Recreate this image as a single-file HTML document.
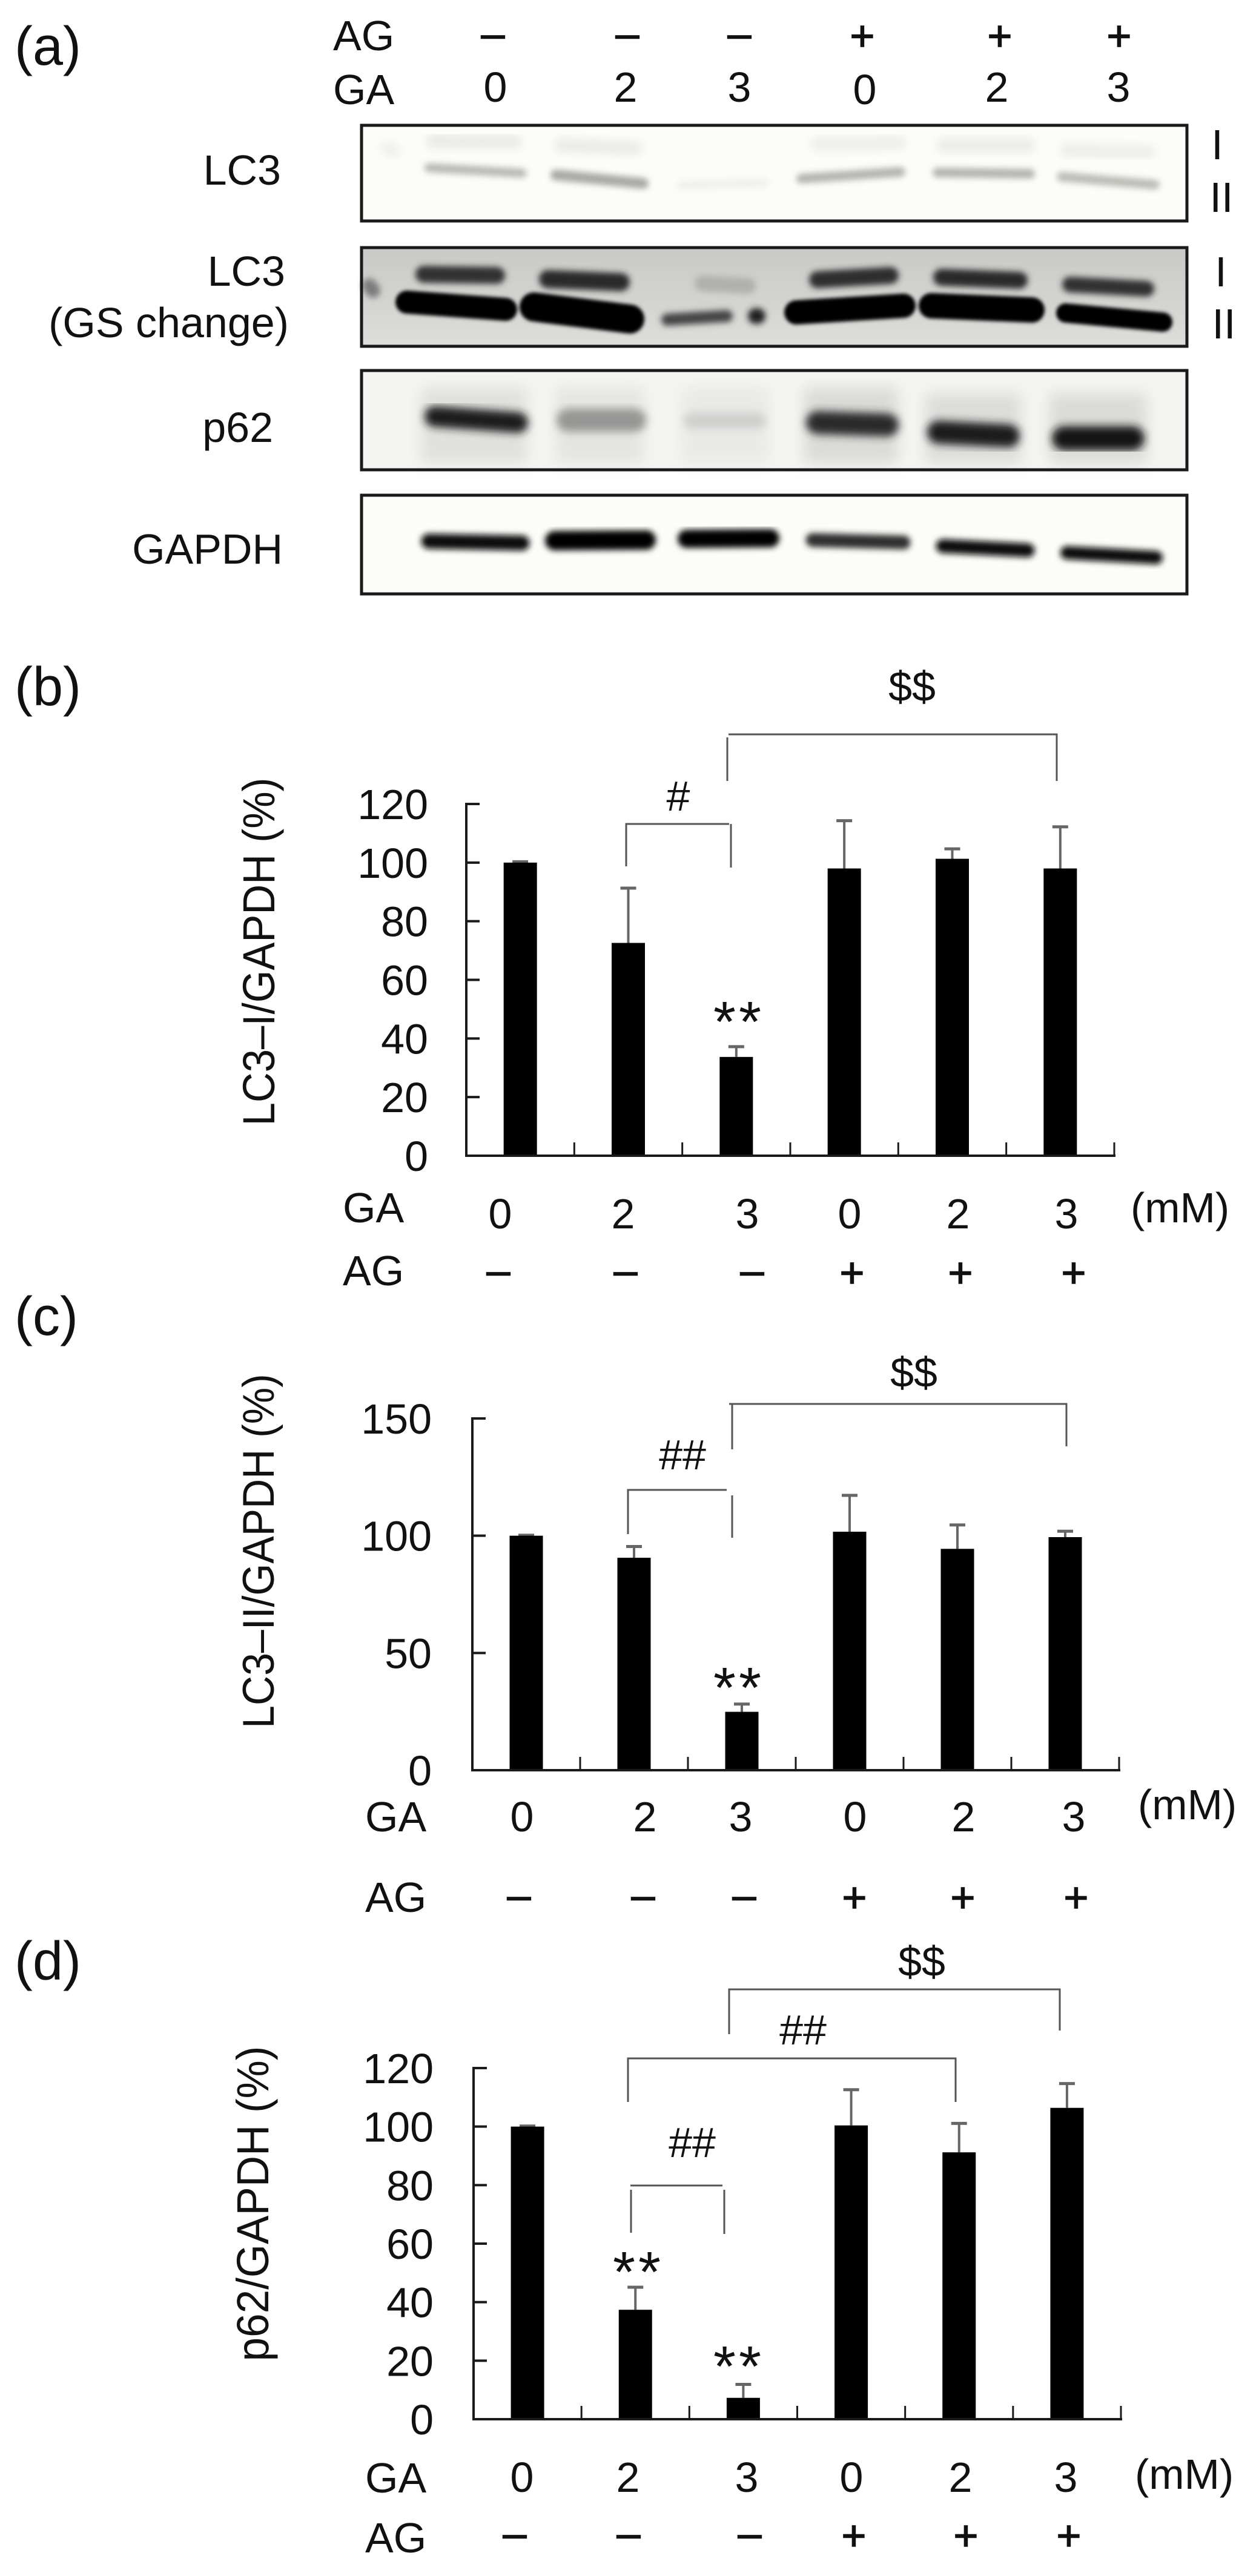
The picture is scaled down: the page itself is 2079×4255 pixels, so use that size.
<!DOCTYPE html>
<html lang="en">
<head>
<meta charset="utf-8">
<title>LC3 and p62 western blots and quantification</title>
<style>
html,body{margin:0;padding:0;background:#fff;}
svg{display:block;}
text{font-family:"Liberation Sans",Arial,sans-serif;font-size:70px;fill:#111;}
.panel{font-size:90px;}
.mid{text-anchor:middle;}
.end{text-anchor:end;}
.sign{text-anchor:middle;stroke:#111;stroke-width:1.5px;}
.ast{font-size:95px;letter-spacing:5px;text-anchor:middle;}
.brk{stroke:#555;stroke-width:3px;fill:none;}
.frame{fill:none;stroke:#1a1a1a;stroke-width:5px;}
.band{fill:none;stroke-linecap:round;}
</style>
</head>
<body>
<svg id="figure" xmlns="http://www.w3.org/2000/svg" width="2079" height="4255" viewBox="0 0 2079 4255">
<defs>
<filter id="blur-soft" x="-20%" y="-60%" width="140%" height="220%"><feGaussianBlur stdDeviation="7"/></filter>
<filter id="blur-mid" x="-20%" y="-60%" width="140%" height="220%"><feGaussianBlur stdDeviation="5"/></filter>
<filter id="blur-smear" x="-30%" y="-30%" width="160%" height="160%"><feGaussianBlur stdDeviation="12"/></filter>
<linearGradient id="gs-membrane" x1="0" y1="0" x2="0" y2="1"><stop offset="0" stop-color="#c9c9c7"/><stop offset="0.6" stop-color="#d4d4d2"/><stop offset="1" stop-color="#dededc"/></linearGradient>
</defs>
<rect width="2079" height="4255" fill="#fff"/>

<!-- Panel a -->
<g>
<text class="panel" x="24" y="107">(a)</text>
<text x="550" y="83">AG</text>
<text x="550" y="172">GA</text>
<g>
<text class="sign" x="814" y="79">–</text>
<text class="sign" x="1036" y="79">–</text>
<text class="sign" x="1221" y="79">–</text>
<text class="sign" x="1424" y="83">+</text>
<text class="sign" x="1651" y="83">+</text>
<text class="sign" x="1848" y="83">+</text>
</g>
<g>
<text class="mid" x="818" y="168">0</text>
<text class="mid" x="1033" y="168">2</text>
<text class="mid" x="1221" y="168">3</text>
<text class="mid" x="1428" y="172">0</text>
<text class="mid" x="1646" y="168">2</text>
<text class="mid" x="1847" y="168">3</text>
</g>

<text class="end" x="464" y="305">LC3</text>
<text class="end" x="471" y="472">LC3</text>
<text class="end" x="477" y="557">(GS change)</text>
<text class="end" x="451" y="730">p62</text>
<text class="end" x="467" y="931">GAPDH</text>

<text class="mid" x="2010" y="263">I</text>
<text class="mid" x="2017" y="350">II</text>
<text class="mid" x="2016" y="473">I</text>
<text class="mid" x="2021" y="559">II</text>

<g>
<rect x="597" y="207" width="1363" height="158" fill="#fcfcf9"/>
<g class="band" filter="url(#blur-soft)">
<line x1="715" y1="233" x2="850" y2="234" stroke="#eaeae7" stroke-width="24"/>
<line x1="927" y1="240" x2="1049" y2="245" stroke="#ebebe8" stroke-width="24"/>
<line x1="1350" y1="238" x2="1485" y2="236" stroke="#eeeeeb" stroke-width="24"/>
<line x1="1557" y1="240" x2="1699" y2="240" stroke="#ecece9" stroke-width="24"/>
<line x1="1762" y1="248" x2="1897" y2="252" stroke="#eeeeeb" stroke-width="24"/>
<line x1="640" y1="245" x2="650" y2="250" stroke="#f0f0ed" stroke-width="24"/>
</g>
<g class="band" filter="url(#blur-mid)">
<line x1="708" y1="277" x2="862" y2="286" stroke="#b8b8b3" stroke-width="15"/>
<line x1="918" y1="289" x2="1062" y2="303" stroke="#a9a9a4" stroke-width="18"/>
<line x1="1125" y1="306" x2="1263" y2="302" stroke="#efefec" stroke-width="14"/>
<line x1="1323" y1="295" x2="1487" y2="284" stroke="#b4b4af" stroke-width="16"/>
<line x1="1548" y1="285" x2="1701" y2="287" stroke="#b4b4af" stroke-width="16"/>
<line x1="1753" y1="292" x2="1907" y2="305" stroke="#bbbbb6" stroke-width="16"/>
</g>
<rect class="frame" x="597" y="207" width="1363" height="158"/>
</g>

<g>
<rect x="597" y="409" width="1363" height="163" fill="url(#gs-membrane)"/>
<g class="band" filter="url(#blur-mid)">
<line x1="700" y1="453" x2="820" y2="455" stroke="#333" stroke-width="28"/>
<line x1="905" y1="461" x2="1025" y2="466" stroke="#2a2a2a" stroke-width="30"/>
<line x1="1350" y1="462" x2="1470" y2="455" stroke="#2f2f2f" stroke-width="28"/>
<line x1="1555" y1="458" x2="1683" y2="463" stroke="#2a2a2a" stroke-width="28"/>
<line x1="1767" y1="470" x2="1893" y2="477" stroke="#333" stroke-width="26"/>
<line x1="610" y1="472" x2="616" y2="480" stroke="#7d7d7d" stroke-width="24"/>
<line x1="1160" y1="468" x2="1235" y2="472" stroke="#b0b0ae" stroke-width="26"/>
<line x1="1102" y1="528" x2="1200" y2="522" stroke="#444" stroke-width="20"/>
<line x1="1248" y1="522" x2="1251" y2="522" stroke="#222" stroke-width="26"/>
</g>
<g class="band" stroke="#000" style="filter:blur(3px)">
<line x1="672" y1="499" x2="835" y2="511" stroke-width="38"/>
<line x1="882" y1="507" x2="1040" y2="527" stroke-width="48"/>
<line x1="1315" y1="516" x2="1492" y2="505" stroke-width="40"/>
<line x1="1538" y1="505" x2="1704" y2="512" stroke-width="42"/>
<line x1="1760" y1="517" x2="1920" y2="532" stroke-width="32"/>
</g>
<rect class="frame" x="597" y="409" width="1363" height="163"/>
</g>

<g>
<rect x="597" y="612" width="1363" height="164" fill="#f4f4f2"/>
<g filter="url(#blur-smear)">
<rect x="695" y="640" width="175" height="125" fill="#e0e0de"/>
<rect x="918" y="640" width="145" height="125" fill="#e4e4e2"/>
<rect x="1125" y="640" width="145" height="125" fill="#e9e9e7"/>
<rect x="1328" y="640" width="155" height="125" fill="#dadad8"/>
<rect x="1528" y="650" width="158" height="115" fill="#dcdcda"/>
<rect x="1733" y="650" width="160" height="115" fill="#dadad8"/>
</g>
<g class="band" filter="url(#blur-soft)">
<line x1="718" y1="688" x2="855" y2="698" stroke="#1c1c1c" stroke-width="34"/>
<line x1="938" y1="694" x2="1048" y2="694" stroke="#969694" stroke-width="38"/>
<line x1="1142" y1="695" x2="1252" y2="695" stroke="#cfcfcd" stroke-width="26"/>
<line x1="1350" y1="698" x2="1465" y2="702" stroke="#2b2b2b" stroke-width="38"/>
<line x1="1550" y1="714" x2="1665" y2="720" stroke="#1a1a1a" stroke-width="38"/>
<line x1="1757" y1="724" x2="1870" y2="724" stroke="#161616" stroke-width="40"/>
</g>
<rect class="frame" x="597" y="612" width="1363" height="164"/>
</g>

<g>
<rect x="597" y="818" width="1363" height="163" fill="#fcfcf9"/>
<g class="band" filter="url(#blur-mid)">
<line x1="708" y1="894" x2="862" y2="897" stroke="#0c0c0c" stroke-width="25"/>
<line x1="916" y1="893" x2="1067" y2="892" stroke="#050505" stroke-width="32"/>
<line x1="1134" y1="890" x2="1272" y2="889" stroke="#050505" stroke-width="30"/>
<line x1="1342" y1="892" x2="1492" y2="896" stroke="#2e2e2e" stroke-width="23"/>
<line x1="1557" y1="902" x2="1697" y2="909" stroke="#0c0c0c" stroke-width="23"/>
<line x1="1762" y1="913" x2="1909" y2="921" stroke="#0c0c0c" stroke-width="22"/>
</g>
<rect class="frame" x="597" y="818" width="1363" height="163"/>
</g>
</g>

<!-- Panel b -->
<g>
<text class="panel" x="24" y="1165">(b)</text>
<text class="mid" style="font-size:69px" transform="translate(453,1572) rotate(-90) scale(1,1.08)">LC3–I/GAPDH (%)</text>
<g id="chart-b"></g>
<g>
<path class="brk" d="M1034 1431V1361H1204"/>
<path class="brk" d="M1207 1361V1433"/>
<path class="brk" d="M1203 1213H1745V1290"/>
<path class="brk" d="M1201 1218V1290"/>
</g>
<text class="mid" x="1120" y="1339">#</text>
<text class="mid" x="1506" y="1158">$$</text>
<text class="ast" x="1220" y="1720">**</text>
<text x="566" y="2019">GA</text>
<text class="mid" x="826" y="2029">0</text>
<text class="mid" x="1029" y="2029">2</text>
<text class="mid" x="1234" y="2029">3</text>
<text class="mid" x="1403" y="2029">0</text>
<text class="mid" x="1582" y="2029">2</text>
<text class="mid" x="1761" y="2029">3</text>
<text x="1867" y="2019">(mM)</text>
<text x="566" y="2123">AG</text>
<text class="sign" x="823" y="2122">–</text>
<text class="sign" x="1033" y="2122">–</text>
<text class="sign" x="1242" y="2122">–</text>
<text class="sign" x="1407" y="2126">+</text>
<text class="sign" x="1586" y="2126">+</text>
<text class="sign" x="1773" y="2126">+</text>
</g>

<!-- Panel c -->
<g>
<text class="panel" x="24" y="2205">(c)</text>
<text class="mid" style="font-size:68px" transform="translate(452,2562) rotate(-90) scale(1,1.08)">LC3–II/GAPDH (%)</text>
<g id="chart-c"></g>
<g>
<path class="brk" d="M1037 2534V2461H1200"/>
<path class="brk" d="M1209 2470V2540"/>
<path class="brk" d="M1204 2319H1761V2389"/>
<path class="brk" d="M1209 2319V2394"/>
</g>
<text class="mid" x="1127" y="2427">##</text>
<text class="mid" x="1509" y="2291">$$</text>
<text class="ast" x="1220" y="2820">**</text>
<text x="603" y="3025">GA</text>
<text class="mid" x="862" y="3025">0</text>
<text class="mid" x="1065" y="3025">2</text>
<text class="mid" x="1223" y="3025">3</text>
<text class="mid" x="1412" y="3025">0</text>
<text class="mid" x="1591" y="3025">2</text>
<text class="mid" x="1773" y="3025">3</text>
<text x="1879" y="3005">(mM)</text>
<text x="603" y="3158">AG</text>
<text class="sign" x="857" y="3154">–</text>
<text class="sign" x="1062" y="3154">–</text>
<text class="sign" x="1229" y="3154">–</text>
<text class="sign" x="1411" y="3158">+</text>
<text class="sign" x="1590" y="3158">+</text>
<text class="sign" x="1777" y="3158">+</text>
</g>

<!-- Panel d -->
<g>
<text class="panel" x="24" y="3270">(d)</text>
<text class="mid" style="font-size:71px" transform="translate(443,3640) rotate(-90) scale(1,1.05)">p62/GAPDH (%)</text>
<g id="chart-d"></g>
<g>
<path class="brk" d="M1042 3688V3617M1041 3610H1193M1196 3617V3690"/>
<path class="brk" d="M1037 3472V3400H1578V3472"/>
<path class="brk" d="M1204 3360V3286H1750V3354"/>
</g>
<text class="mid" x="1326" y="3377">##</text>
<text class="mid" x="1143" y="3563">##</text>
<text class="mid" x="1522" y="3264">$$</text>
<text class="ast" x="1054" y="3785">**</text>
<text class="ast" x="1220" y="3941">**</text>
<text x="603" y="4117">GA</text>
<text class="mid" x="862" y="4116">0</text>
<text class="mid" x="1037" y="4116">2</text>
<text class="mid" x="1233" y="4116">3</text>
<text class="mid" x="1406" y="4116">0</text>
<text class="mid" x="1586" y="4116">2</text>
<text class="mid" x="1760" y="4116">3</text>
<text x="1874" y="4111">(mM)</text>
<text x="603" y="4216">AG</text>
<text class="sign" x="850" y="4208">–</text>
<text class="sign" x="1038" y="4208">–</text>
<text class="sign" x="1238" y="4208">–</text>
<text class="sign" x="1410" y="4212">+</text>
<text class="sign" x="1595" y="4212">+</text>
<text class="sign" x="1765" y="4212">+</text>
</g>
</svg>

<script>
const categories = ['ga0-ag-off', 'ga2-ag-off', 'ga3-ag-off', 'ga0-ag-on', 'ga2-ag-on', 'ga3-ag-on'];

const lc3iTicks = [0, 20, 40, 60, 80, 100, 120];
const lc3iValues = [100, 72.6, 33.7, 98, 101.3, 98];
const lc3iErrorTops = [100.3, 91.3, 37.2, 114.3, 104.7, 112.2];

const lc3iiTicks = [0, 50, 100, 150];
const lc3iiValues = [100, 90.6, 24.9, 101.7, 94.4, 99.4];
const lc3iiErrorTops = [100.2, 95.4, 28.2, 117.2, 104.6, 101.9];

const p62Ticks = [0, 20, 40, 60, 80, 100, 120];
const p62Values = [100, 37.4, 7.3, 100.4, 91.2, 106.4];
const p62ErrorTops = [100.2, 45.1, 11.9, 112.6, 101.1, 114.7];

const NS = 'http://www.w3.org/2000/svg';

function make(tag, attrs, parent) {
  const node = document.createElementNS(NS, tag);
  for (const key in attrs) node.setAttribute(key, attrs[key]);
  parent.appendChild(node);
  return node;
}

function drawChart(id, frame, ticks, values, errorTops) {
  const root = document.getElementById(id);
  const maxTick = ticks[ticks.length - 1];
  const band = (frame.right - frame.left) / categories.length;
  const xScale = i => frame.left + band * (i + 0.5);
  const yScale = v => frame.bottom - (v / maxTick) * (frame.bottom - frame.top);
  const axisColor = '#1a1a1a';

  categories.forEach((cat, i) => {
    const cx = xScale(i);
    const stem = make('line', {x1: cx, x2: cx, y1: yScale(values[i]), y2: yScale(errorTops[i]), stroke: '#666', 'stroke-width': 4}, root);
    
    
    const cap = make('line', {x1: cx - 13, x2: cx + 13, y1: yScale(errorTops[i]), y2: yScale(errorTops[i]), stroke: '#666', 'stroke-width': 5}, root);
    
    
    const bar = make('rect', {x: cx - 27.5, y: yScale(values[i]), width: 55, height: frame.bottom - yScale(values[i]), fill: '#000'}, root);
    
    
    const xTick = make('line', {x1: frame.left + band * (i + 1), x2: frame.left + band * (i + 1), y1: frame.bottom, y2: frame.bottom - 22, stroke: axisColor, 'stroke-width': 3}, root);
    
    
  });

  ticks.forEach(t => {
    const tick = make('line', {x1: frame.left, x2: frame.left + 22, y1: yScale(t), y2: yScale(t), stroke: axisColor, 'stroke-width': 4}, root);
    
    
    const label = make('text', {x: frame.labelRight, y: yScale(t) + 25, class: 'end'}, root);
    label.textContent = String(t);
    
    
  });

  const yAxis = make('line', {x1: frame.left, x2: frame.left, y1: frame.top - 2, y2: frame.bottom + 2, stroke: axisColor, 'stroke-width': 4}, root);
  
  
  const xAxis = make('line', {x1: frame.left - 2, x2: frame.right + 2, y1: frame.bottom, y2: frame.bottom, stroke: axisColor, 'stroke-width': 4}, root);
  
  
}

drawChart('chart-b', {left: 770, right: 1840, top: 1328, bottom: 1909, labelRight: 707}, lc3iTicks, lc3iValues, lc3iErrorTops);
drawChart('chart-c', {left: 780, right: 1848, top: 2343, bottom: 2924, labelRight: 713}, lc3iiTicks, lc3iiValues, lc3iiErrorTops);
drawChart('chart-d', {left: 782, right: 1851, top: 3416, bottom: 3996, labelRight: 716}, p62Ticks, p62Values, p62ErrorTops);
</script>
</body>
</html>
